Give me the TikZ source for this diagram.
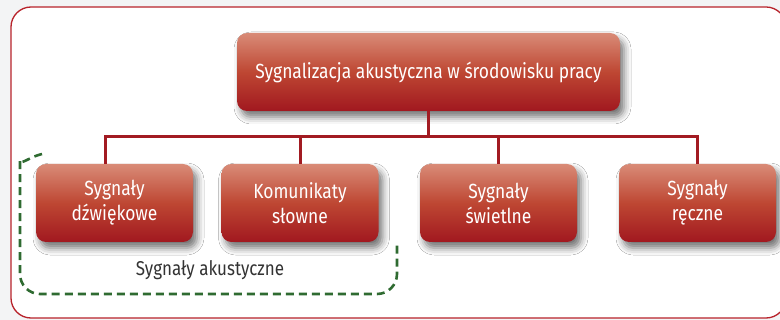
\documentclass[tikz,border=0pt]{standalone}
\usepackage{fontspec}
\IfFontExistsTF{Fira Sans Book}{\setmainfont{Fira Sans Book}[FakeStretch=0.85]}{\setmainfont{Fira Sans}[FakeStretch=0.85]}
\usetikzlibrary{shadows.blur}
\definecolor{bgc}{HTML}{F3F4F5}
\definecolor{framered}{HTML}{B8232B}
\definecolor{connred}{HTML}{A21B22}
\definecolor{boxtop}{HTML}{D98B77}
\definecolor{boxmid}{HTML}{BE4733}
\definecolor{boxbot}{HTML}{A1181F}
\definecolor{dgreen}{HTML}{2F6B31}
\definecolor{txtgray}{HTML}{333333}
\tikzset{
  redbox/.style={rounded corners=10pt, top color=boxtop, bottom color=boxbot, middle color=boxmid,
    text=white, align=center, minimum height=78pt, inner sep=0pt,
    font=\fontsize{20.5}{25}\selectfont,
    blur shadow={shadow xshift=4pt, shadow yshift=-6pt, shadow blur radius=7pt, shadow opacity=55}},
  conn/.style={draw=connred, line width=3pt, line join=miter},
  groupline/.style={draw=dgreen, line width=2.6pt, dash pattern=on 8pt off 5pt},
  framestyle/.style={draw=framered, line width=1.3pt, fill=white, rounded corners=20pt},
}
\begin{document}
\begin{tikzpicture}[x=1pt,y=-1pt]
\useasboundingbox (0,0) rectangle (780,320);
\clip (0,0) rectangle (780,320);
\fill[bgc] (0,0) rectangle (780,320);
\path[framestyle] (11,7) rectangle (786,318);

\node[redbox, minimum width=383pt] (top) at (428.5,72) {Sygnalizacja akustyczna w środowisku pracy};
\node[redbox, minimum width=157pt] (b1) at (114.5,203) {Sygnały\\dźwiękowe};
\node[redbox, minimum width=157pt] (b2) at (300,203) {Komunikaty\\słowne};
\node[redbox, minimum width=157pt] (b3) at (498.5,203) {Sygnały\\świetlne};
\node[redbox, minimum width=157pt] (b4) at (697.5,203) {Sygnały\\ręczne};

\coordinate (h1) at (105,137);
\draw[conn] (top.south) -- (top.south |- h1);
\draw[conn] (h1 |- b1.north) -- (h1) -- (b4.north |- h1) -- (b4.north);
\draw[conn] (b2.north) -- (b2.north |- h1);
\draw[conn] (b3.north) -- (b3.north |- h1);

\draw[groupline, rounded corners=20pt] (42,154) .. controls (29,157) and (20,166) .. (20,180) -- (20,294) -- (397,294) -- (397,245);
\node[text=txtgray, font=\fontsize{20}{24}\selectfont] (lbl) at (210,270) {Sygnały akustyczne};
\end{tikzpicture}
\end{document}
